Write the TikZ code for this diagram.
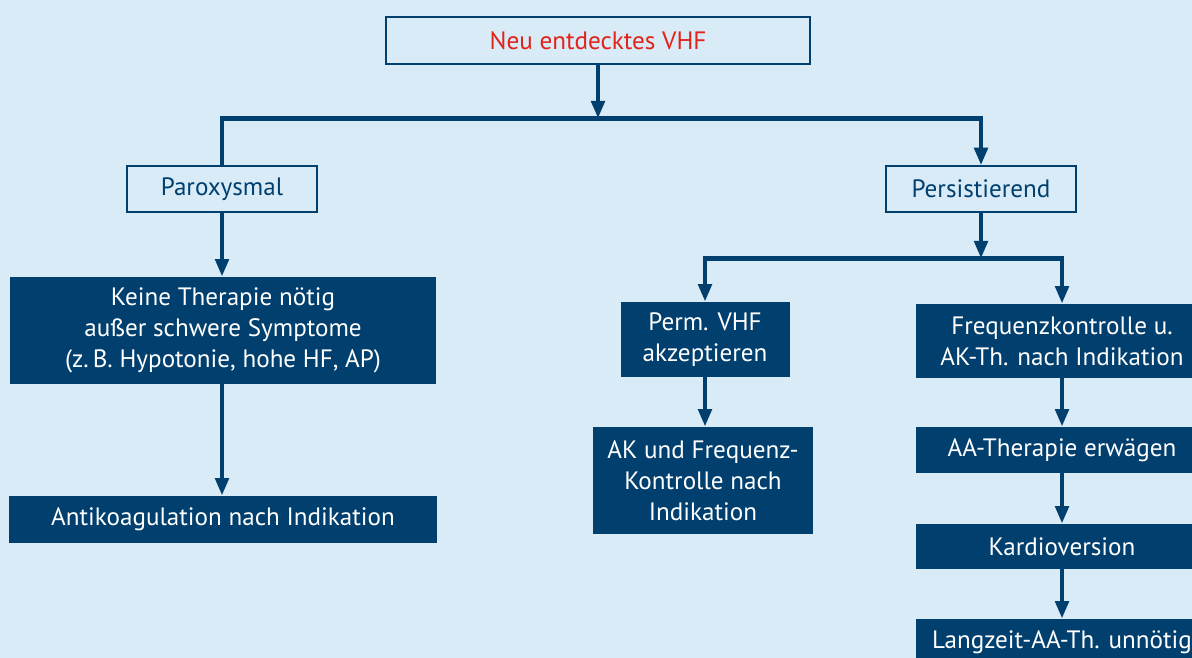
\documentclass[tikz,border=0pt]{standalone}
\usepackage{fontspec}
\setmainfont{PT Sans}
\usepackage{tikz}
\usetikzlibrary{arrows.meta, positioning}
\definecolor{Navy}    {HTML}{003F6E}
\definecolor{SkyLight}{HTML}{D8EBF7}
\definecolor{Signal}  {HTML}{E2231A}

\begin{document}
\begin{tikzpicture}[x=0.02cm, y=-0.02cm, font=\fontsize{14.3}{17.6}\selectfont,
    openbox/.style={draw=Navy, fill=SkyLight, line width=0.8pt, inner sep=0pt,
                    text=Navy, align=center},
    darkbox/.style={fill=Navy, inner sep=0pt, text=white, align=center},
    link/.style={Navy, line width=2.8pt, line join=miter},
    arr/.style={link, -{Triangle[length=10pt, width=7.5pt]}}]
  % Background and frame
  \fill[SkyLight] (0,0) rectangle (1192,658);
  \useasboundingbox (0,0) rectangle (1192,658);
  \clip (0,0) rectangle (1192,658);
  % Top
  \node[openbox, text=Signal, minimum width=424*0.02cm, minimum height=47*0.02cm]
        (vhf) at (598,40.5) {Neu entdecktes VHF};
  % Second level
  \node[openbox, minimum width=190*0.02cm, minimum height=46*0.02cm]
        (parox) at (222,189) {Paroxysmal};
  \node[openbox, minimum width=190*0.02cm, minimum height=46*0.02cm]
        (persist) at (981,189) {Persistierend};
  % Paroxysmal branch
  \node[darkbox, minimum width=426*0.02cm, minimum height=107*0.02cm]
        (keine) at (223,330.5) {Keine Therapie nötig\\au\ss er schwere Symptome\\(z.\,B. Hypotonie, hohe HF, AP)};
  \node[darkbox, minimum width=428*0.02cm, minimum height=47*0.02cm]
        (antikoag) at (223,519.5) {Antikoagulation nach Indikation};
  % Persistierend branch, left
  \node[darkbox, minimum width=169*0.02cm, minimum height=75*0.02cm]
        (perm) at (705,339.5) {Perm. VHF\\akzeptieren};
  \node[darkbox, minimum width=220*0.02cm, minimum height=107*0.02cm]
        (akfreq) at (703,480.5) {AK und Frequenz-\\Kontrolle nach\\Indikation};
  % Persistierend branch, right
  \node[darkbox, minimum width=292*0.02cm, minimum height=74*0.02cm]
        (freq) at (1062,341) {Frequenzkontrolle u.\\AK-Th. nach Indikation};
  \node[darkbox, minimum width=292*0.02cm, minimum height=46*0.02cm]
        (aa) at (1062,450) {AA-Therapie erwägen};
  \node[darkbox, minimum width=292*0.02cm, minimum height=45*0.02cm]
        (kardio) at (1062,546.5) {Kardioversion};
  \node[darkbox, minimum width=292*0.02cm, minimum height=46*0.02cm]
        (langzeit) at (1062,642) {Langzeit-AA-Th. unnötig};
  % Forks
  \coordinate (fork1) at (598,118.5);
  \coordinate (fork2) at (981,258.5);
  % Connectors
  \draw[arr] (vhf.south) -- (fork1);
  \draw[arr] (parox.north) |- (fork1) -| (persist.north);
  \draw[arr] (parox.south) -- (keine.north -| parox.south);
  \draw[arr] (keine.south -| parox.south) -- (antikoag.north -| parox.south);
  \draw[arr] (persist.south) -- (fork2);
  \draw[arr] (fork2) -| (perm.north);
  \draw[arr] (fork2) -| (freq.north);
  \draw[arr] (perm.south) -- (akfreq.north -| perm.south);
  \foreach \src/\dst in {freq/aa, aa/kardio, kardio/langzeit}
    \draw[arr] (\src.south) -- (\dst.north);
\end{tikzpicture}
\end{document}
